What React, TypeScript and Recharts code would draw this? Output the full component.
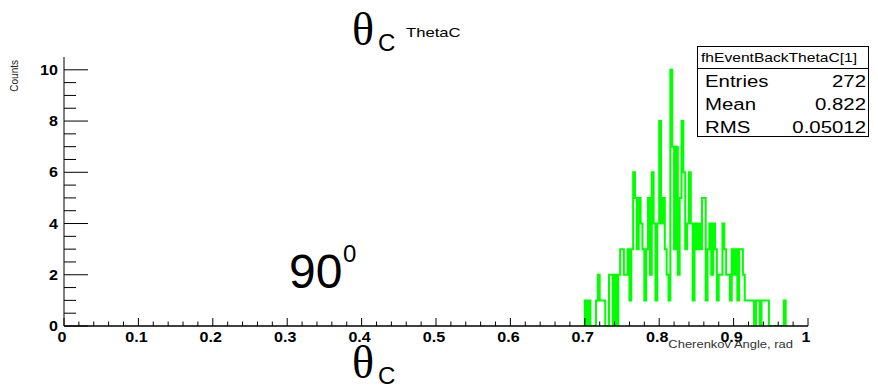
import { LineChart, Line, XAxis, YAxis, ReferenceLine } from "recharts";

const SANS = '"Liberation Sans", Arial, Helvetica, sans-serif';
const SERIF = '"Liberation Serif", "Times New Roman", serif';

// histogram binning: 400 bins over [0, 1], only the filled range is listed
const binStart = 0.6975;
const binWidth = 0.0025;

// entries per bin, starting at binStart
const counts = [
  0, 1, 0, 1, 0, 0, 0, 1, 2, 1, 1, 1, 0, 0, 2, 2, 0, 2, 0, 2, 3,
  3, 2, 2, 3, 1, 3, 6, 5, 3, 5, 4, 3, 1, 3, 5, 2, 6, 4, 1, 4,
  8, 4, 5, 3, 2, 1, 10, 7, 3, 7, 2, 5, 8, 6, 3, 4, 6, 4, 1, 4,
  3, 4, 3, 5, 5, 1, 3, 4, 2, 4, 3, 1, 2, 2, 4, 3, 2, 2, 1, 3,
  2, 3, 1, 3, 3, 2, 1, 1, 1, 1, 1, 0, 1, 1, 0, 1, 1, 1, 1, 0,
  0, 0, 0, 0, 0, 0, 0, 1, 0,
];

const xMajor = [0, 0.1, 0.2, 0.3, 0.4, 0.5, 0.6, 0.7, 0.8, 0.9, 1];
const xLabels = ["0", "0.1", "0.2", "0.3", "0.4", "0.5", "0.6", "0.7", "0.8", "0.9", "1"];
const yMajor = [0, 2, 4, 6, 8, 10];
const yLabels = ["0", "2", "4", "6", "8", "10"];

const statNames = ["Entries", "Mean", "RMS"];
const statValues = ["272", "0.822", "0.05012"];

// minor ticks: x every 0.02, y every 0.5
const xTicks = Array.from({ length: 51 }, (_, i) => +(i * 0.02).toFixed(2));
const yTicks = Array.from({ length: 21 }, (_, i) => i * 0.5);

const histData = counts.map((n, i) => ({ x: +(binStart + i * binWidth).toFixed(4), n }));
histData.push({ x: +(binStart + counts.length * binWidth).toFixed(4), n: 0 });

const near = (a: number, b: number) => Math.abs(a - b) < 1e-6;

const XTick = ({ x, y, payload }: any) => {
  const idx = xMajor.findIndex((m) => near(m, payload.value));
  const major = idx >= 0;
  return (
    <g>
      <line x1={x} x2={x} y1={y} y2={y - (major ? 8 : 4.5)} stroke="#000" />
      {major && (
        <text
          transform={`translate(${x - 2},${y + 16}) scale(1.15,1)`}
          textAnchor="middle"
          fontSize={14}
          fontWeight="bold"
          fontFamily={SANS}
          fill="#000"
        >
          {xLabels[idx]}
        </text>
      )}
    </g>
  );
};

const YTick = ({ x, y, payload }: any) => {
  const idx = yMajor.findIndex((m) => near(m, payload.value));
  const major = idx >= 0;
  return (
    <g>
      <line x1={x} x2={x + (major ? 24 : 12)} y1={y} y2={y} stroke="#000" />
      {major && (
        <text
          transform={`translate(${x - 6},${y + 5}) scale(1.15,1)`}
          textAnchor="end"
          fontSize={14}
          fontWeight="bold"
          fontFamily={SANS}
          fill="#000"
        >
          {yLabels[idx]}
        </text>
      )}
    </g>
  );
};

const Txt = ({ x, y, size, sx = 1, anchor = "start", bold = false, serif = false, fill = "#000", children }: any) => (
  <text
    transform={`translate(${x},${y}) scale(${sx},1)`}
    textAnchor={anchor}
    fontSize={size}
    fontWeight={bold ? "bold" : "normal"}
    fontFamily={serif ? SERIF : SANS}
    fill={fill}
  >
    {children}
  </text>
);

export default function App() {
  return (
    <div style={{ position: "absolute", left: 0, top: 0, width: 878, height: 387, background: "#fff" }}>
      <LineChart
        width={878}
        height={387}
        data={histData}
        margin={{ top: 57, right: 70, bottom: 0, left: 0 }}
      >
        <XAxis
          dataKey="x"
          type="number"
          domain={[0, 1]}
          ticks={xTicks}
          interval={0}
          height={61}
          tickSize={0}
          tickMargin={0}
          tickLine={false}
          tick={(p: any) => <XTick {...p} />}
          axisLine={{ stroke: "#000" }}
          allowDataOverflow
        />
        <XAxis
          xAxisId="top"
          orientation="top"
          type="number"
          domain={[0, 1]}
          height={0}
          tick={false}
          tickLine={false}
          axisLine={{ stroke: "#000" }}
        />
        <YAxis
          type="number"
          domain={[0, 10.5]}
          ticks={yTicks}
          interval={0}
          width={64}
          tickSize={0}
          tickMargin={0}
          tickLine={false}
          tick={(p: any) => <YTick {...p} />}
          axisLine={{ stroke: "#000" }}
          allowDataOverflow
        />
        <YAxis
          yAxisId="r"
          orientation="right"
          type="number"
          domain={[0, 10.5]}
          width={0}
          tick={false}
          tickLine={false}
          axisLine={{ stroke: "#000" }}
        />
        <Line
          type="stepAfter"
          dataKey="n"
          stroke="#00ff00"
          strokeWidth={2}
          dot={false}
          activeDot={false}
          isAnimationActive={false}
        />
        <ReferenceLine y={0} stroke="#000" />
      </LineChart>

      <svg
        width={878}
        height={387}
        style={{ position: "absolute", left: 0, top: 0, pointerEvents: "none" }}
      >
        {/* title */}
        <Txt x={352} y={45} size={46} serif>θ</Txt>
        <Txt x={378} y={51} size={24}>C</Txt>
        <Txt x={406} y={37} size={13} sx={1.28}>ThetaC</Txt>

        {/* axis titles */}
        <text
          transform="translate(18,60) rotate(-90)"
          textAnchor="end"
          fontSize={10}
          fontFamily={SANS}
          fill="#222"
        >
          Counts
        </text>
        <Txt x={793} y={348} size={11} sx={1.18} anchor="end" fill="#333">
          Cherenkov Angle, rad
        </Txt>

        {/* stats box */}
        <rect x={697.5} y={46.5} width={171} height={90} fill="#fff" stroke="#000" />
        <line x1={697.5} x2={868.5} y1={68.5} y2={68.5} stroke="#000" />
        <Txt x={779} y={62} size={12} sx={1.3} anchor="middle">fhEventBackThetaC[1]</Txt>
        {statNames.map((name, i) => (
          <g key={name}>
            <Txt x={705} y={87 + i * 23} size={17} sx={1.2}>{name}</Txt>
            <Txt x={866} y={87 + i * 23} size={17} sx={1.2} anchor="end">{statValues[i]}</Txt>
          </g>
        ))}

        {/* annotations */}
        <Txt x={289} y={288} size={48}>90</Txt>
        <Txt x={343} y={262} size={24}>0</Txt>
        <Txt x={352} y={378} size={46} serif>θ</Txt>
        <Txt x={378} y={384} size={24}>C</Txt>
      </svg>
    </div>
  );
}
